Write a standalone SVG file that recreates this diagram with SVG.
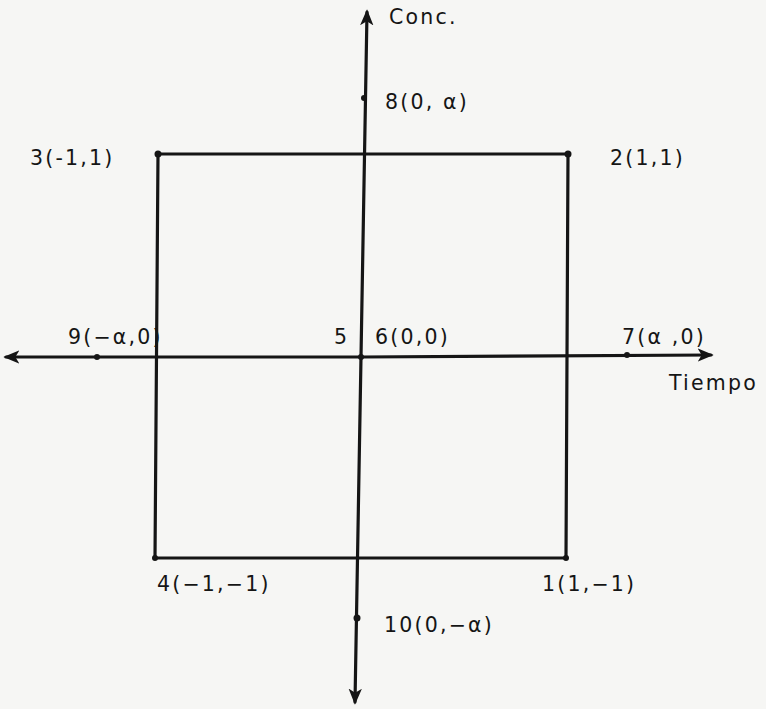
<svg xmlns="http://www.w3.org/2000/svg" width="766" height="709" viewBox="0 0 766 709">
<style>
.ln{stroke:#151515;stroke-width:3.2;fill:none;stroke-linecap:round}
.pt{fill:#151515}
text{font-family:"DejaVu Sans","Liberation Sans",sans-serif;font-size:20.5px;letter-spacing:2.2px;fill:#151515}
</style>
<defs>
<marker id="ah" viewBox="0 0 12 10" refX="10" refY="5" markerWidth="5" markerHeight="4.5" orient="auto" markerUnits="strokeWidth">
<path d="M0,0 L12,5 L0,10 L3,5 Z" fill="#151515"/>
</marker>
</defs>
<rect width="766" height="709" fill="#f6f6f4"/>
<g id="connectors">
<line class="ln" x1="361" y1="357" x2="367" y2="12" marker-end="url(#ah)"/>
<line class="ln" x1="361" y1="357" x2="355" y2="702" marker-end="url(#ah)"/>
<line class="ln" x1="362" y1="357" x2="6" y2="357" marker-end="url(#ah)"/>
<line class="ln" x1="362" y1="357" x2="711" y2="355" marker-end="url(#ah)"/>
<path class="ln" d="M158,154 L568,154 L566,558 L155,558 Z"/>
</g>
<g id="axis-conc"><text x="389" y="24">Conc.</text></g>
<g id="axis-tiempo"><text x="669" y="390">Tiempo</text></g>
<g id="n1"><circle class="pt" cx="566" cy="558" r="3"/><text x="542" y="591">1(1,−1)</text></g>
<g id="n2"><circle class="pt" cx="568" cy="154" r="3.5"/><text x="610" y="165">2(1,1)</text></g>
<g id="n3"><circle class="pt" cx="158" cy="154" r="3.5"/><text x="30" y="165">3(-1,1)</text></g>
<g id="n4"><circle class="pt" cx="155" cy="558" r="3"/><text x="157" y="591">4(−1,−1)</text></g>
<g id="n5"><circle class="pt" cx="361" cy="357" r="3"/><text x="334" y="344">5</text></g>
<g id="n6"><text x="375" y="344">6(0,0)</text></g>
<g id="n7"><circle class="pt" cx="627" cy="355" r="3"/><text x="622" y="344">7(α ,0)</text></g>
<g id="n8"><circle class="pt" cx="364" cy="98" r="3"/><text x="385" y="109">8(0, α)</text></g>
<g id="n9"><circle class="pt" cx="97" cy="357" r="3"/><text x="68" y="344">9(−α,0)</text></g>
<g id="n10"><circle class="pt" cx="357" cy="618" r="3.5"/><text x="384" y="632">10(0,−α)</text></g>
</svg>
